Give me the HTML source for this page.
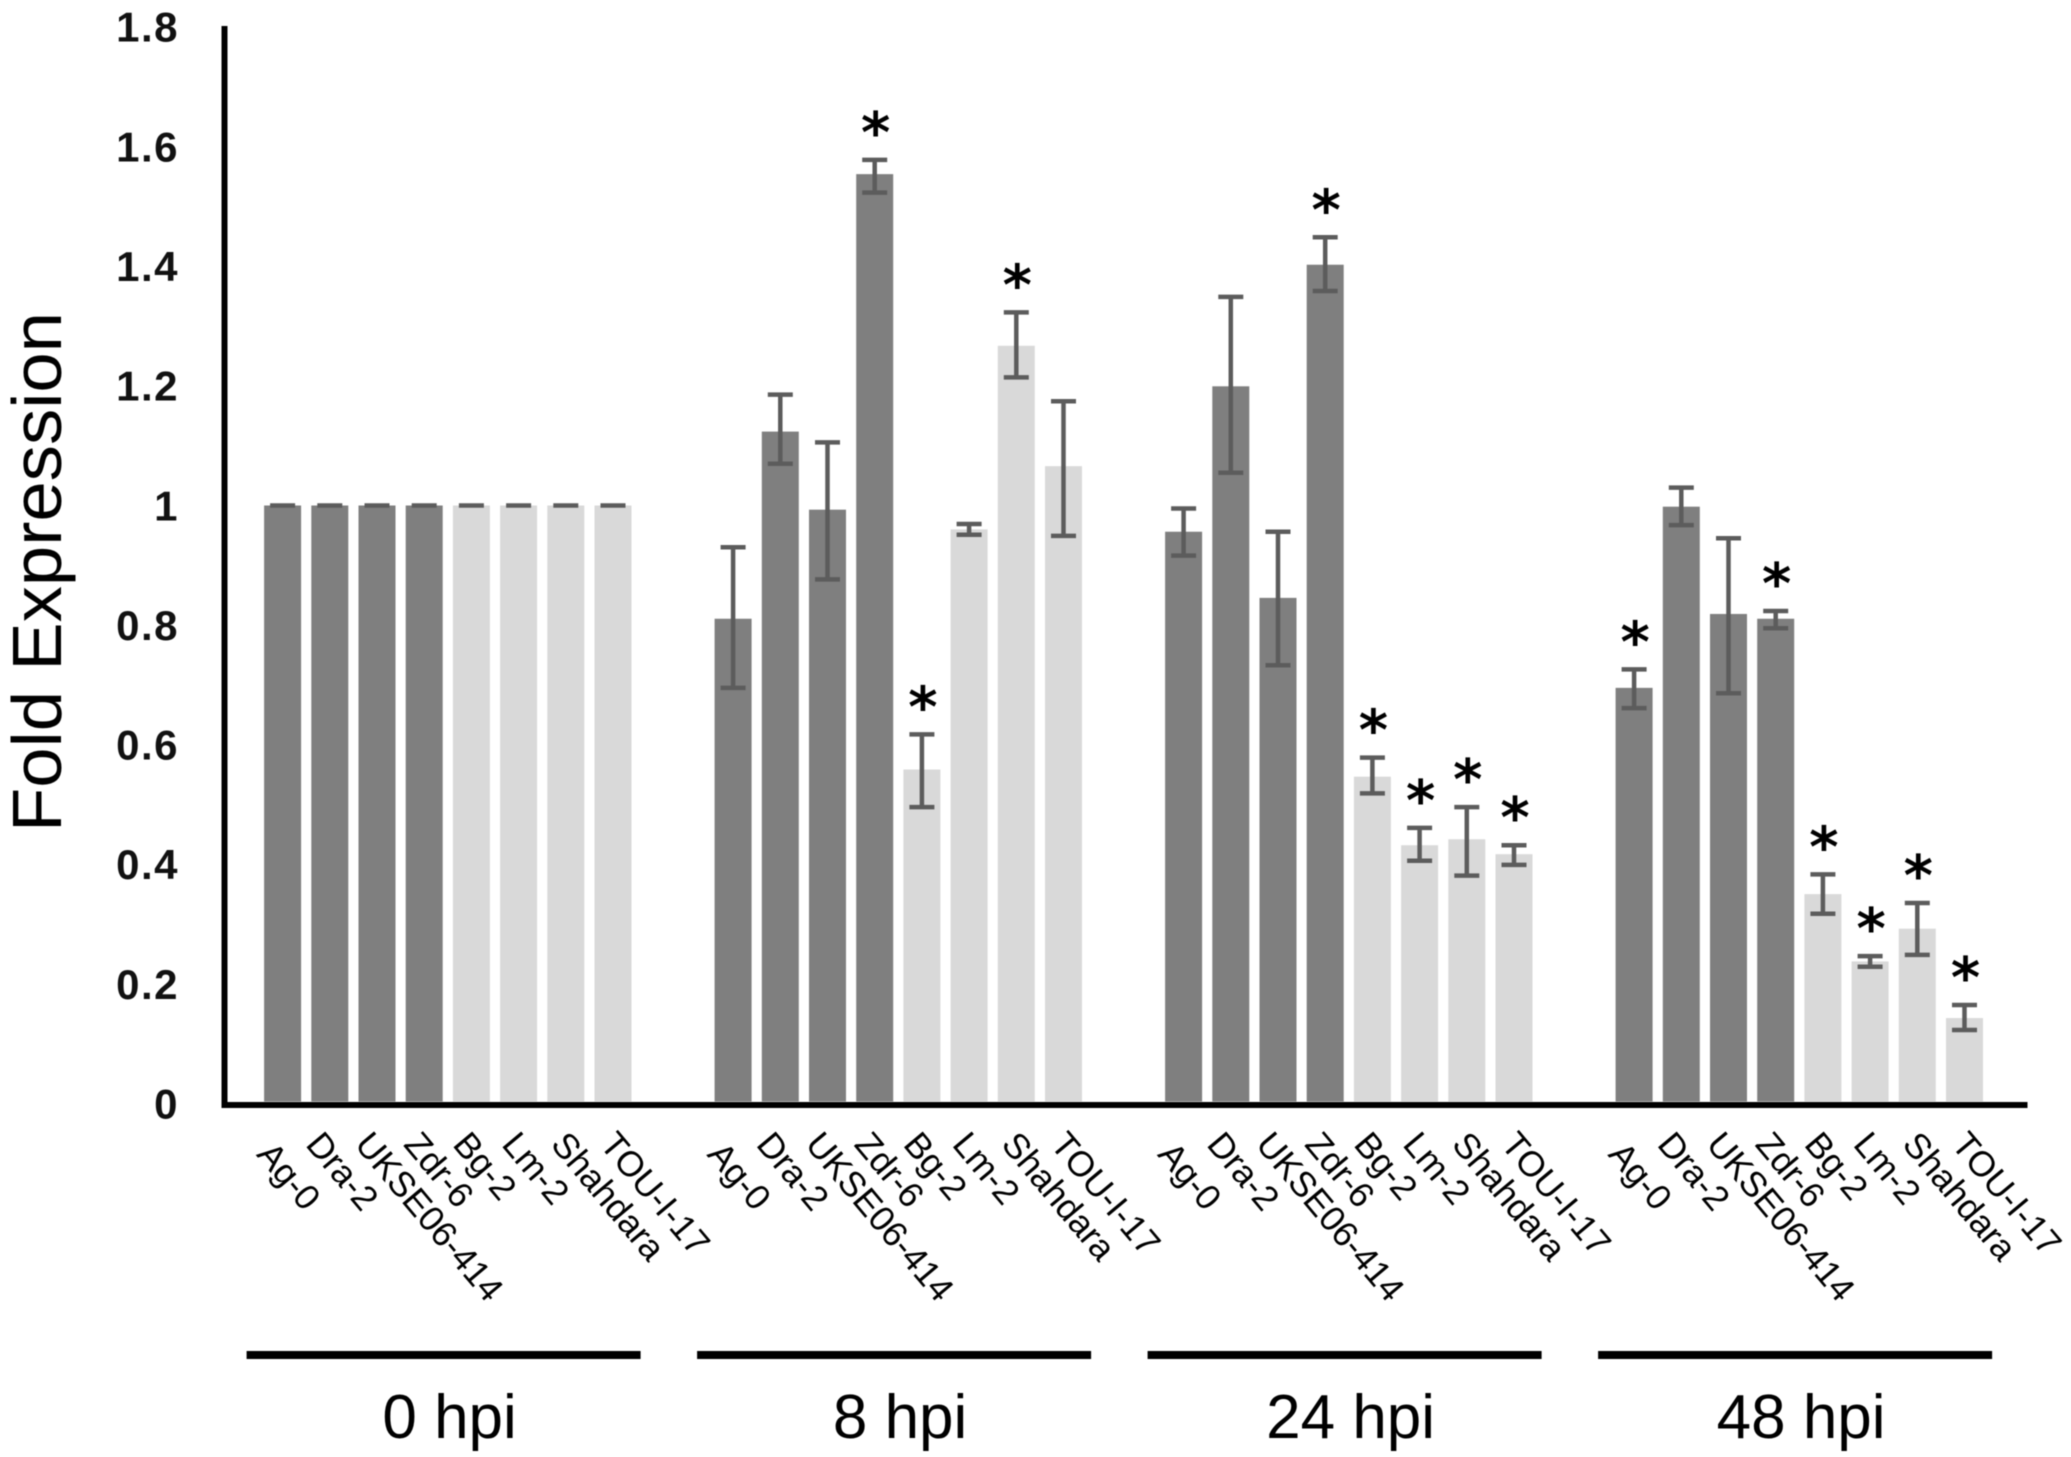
<!DOCTYPE html>
<html>
<head>
<meta charset="utf-8">
<title>Fold Expression</title>
<style>
html,body{margin:0;padding:0;background:#fff;}
svg{display:block;filter:blur(0.6px);}
</style>
</head>
<body>
<svg id="chart" xmlns="http://www.w3.org/2000/svg" width="2071" height="1457" viewBox="0 0 2071 1457"></svg>
<script>
const timepoints = ["0 hpi", "8 hpi", "24 hpi", "48 hpi"];
const accessions = ["Ag-0", "Dra-2", "UKSE06-414", "Zdr-6", "Bg-2", "Lm-2", "Shahdara", "TOU-I-17"];
const yTicks = [1.8, 1.6, 1.4, 1.2, 1, 0.8, 0.6, 0.4, 0.2, 0];

const values0hpi = [1, 1, 1, 1, 1, 1, 1, 1];
const errHigh0hpi = [1, 1, 1, 1, 1, 1, 1, 1];
const errLow0hpi = [1, 1, 1, 1, 1, 1, 1, 1];
const signif0hpi = [0, 0, 0, 0, 0, 0, 0, 0];

const values8hpi = [0.81, 1.124, 0.993, 1.556, 0.557, 0.96, 1.268, 1.066];
const errHigh8hpi = [0.93, 1.186, 1.106, 1.58, 0.616, 0.969, 1.324, 1.175];
const errLow8hpi = [0.694, 1.07, 0.876, 1.525, 0.494, 0.951, 1.215, 0.949];
const signif8hpi = [0, 0, 0, 1, 1, 0, 1, 0];

const values24hpi = [0.956, 1.2, 0.845, 1.404, 0.545, 0.43, 0.44, 0.415];
const errHigh24hpi = [0.995, 1.35, 0.956, 1.45, 0.577, 0.459, 0.494, 0.43];
const errLow24hpi = [0.916, 1.055, 0.732, 1.36, 0.517, 0.404, 0.379, 0.397];
const signif24hpi = [0, 0, 0, 1, 1, 1, 1, 1];

const values48hpi = [0.694, 0.998, 0.818, 0.81, 0.348, 0.235, 0.29, 0.14];
const errHigh48hpi = [0.725, 1.03, 0.945, 0.823, 0.381, 0.244, 0.333, 0.162];
const errLow48hpi = [0.66, 0.967, 0.685, 0.794, 0.315, 0.226, 0.246, 0.12];
const signif48hpi = [1, 0, 0, 1, 1, 1, 1, 1];

const allValues = [values0hpi, values8hpi, values24hpi, values48hpi];
const allErrHigh = [errHigh0hpi, errHigh8hpi, errHigh24hpi, errHigh48hpi];
const allErrLow = [errLow0hpi, errLow8hpi, errLow24hpi, errLow48hpi];
const allSignif = [signif0hpi, signif8hpi, signif24hpi, signif48hpi];

const svgNS = "http://www.w3.org/2000/svg";
const chart = document.getElementById("chart");

function yScale(v) { return 1101.5 - v * 596; }
function tickY(t) { return 1118.5 - t * 598.2; }
function xScale(g, i) { return 282.6 + g * 450.5 + i * 47.2; }

function make(tag, attrs, parent) {
  const el = document.createElementNS(svgNS, tag);
  for (const k in attrs) el.setAttribute(k, attrs[k]);
  (parent || chart).appendChild(el);
  return el;
}

const DARK = "#7f7f7f", LIGHT = "#d9d9d9", ERR = "#5c5c5c";

/* bars */
for (let g = 0; g < timepoints.length; g++) {
  for (let i = 0; i < accessions.length; i++) {
    const cx = xScale(g, i);
    const top = yScale(allValues[g][i]);
    const bar = make("rect", {x: cx - 18.5, y: top, width: 37, height: yScale(0) - top, fill: i < 4 ? DARK : LIGHT});
    
    
  }
}

/* error bars */
for (let g = 0; g < timepoints.length; g++) {
  for (let i = 0; i < accessions.length; i++) {
    const cx = xScale(g, i);
    const hi = yScale(allErrHigh[g][i]);
    const lo = yScale(allErrLow[g][i]);
    const err = make("path", {
      d: "M" + cx + " " + hi + "V" + lo + "M" + (cx - 12.5) + " " + hi + "H" + (cx + 12.5) + "M" + (cx - 12.5) + " " + lo + "H" + (cx + 12.5),
      stroke: ERR, "stroke-width": 4.5, fill: "none"
    });
    
    
    if (allSignif[g][i]) {
      const star = make("text", {
        x: cx + 1, y: hi - 8, "font-family": '"DejaVu Sans", sans-serif', "font-size": 56, "font-weight": "bold",
        "text-anchor": "middle", fill: "#000"
      });
      star.textContent = "*";
      
      
    }
  }
}

/* axes */
const yAxis = make("rect", {x: 221.5, y: 26, width: 6, height: 1082, fill: "#000"});


const xAxis = make("rect", {x: 221.5, y: 1102, width: 1806, height: 6, fill: "#000"});



/* y ticks */
yTicks.forEach(function (t) {
  const lab = make("text", {
    x: 179, y: tickY(t), "text-anchor": "end",
    "font-family": '"Liberation Sans", sans-serif', "font-weight": "bold",
    "font-size": 42, "letter-spacing": "1.5", fill: "#111"
  });
  lab.textContent = String(t);
  
  
});

/* y title */
const yTitle = make("text", {
  transform: "translate(61 572) rotate(-90)", "text-anchor": "middle",
  "font-family": '"Liberation Sans", sans-serif', "font-size": 70,
  textLength: 520, lengthAdjust: "spacingAndGlyphs", fill: "#000"
});
yTitle.textContent = "Fold Expression";



/* category labels */
for (let g = 0; g < timepoints.length; g++) {
  for (let i = 0; i < accessions.length; i++) {
    const lx = xScale(g, i) - 27 + i * 1.8;
    const ly = i === 0 ? 1155 : 1145;
    const cat = make("text", {
      transform: "translate(" + lx + " " + ly + ") rotate(50)",
      "font-family": '"Liberation Sans", sans-serif', "font-size": 35.5, fill: "#000"
    });
    cat.textContent = accessions[i];
    
    
  }
}

/* group brackets and labels */
for (let g = 0; g < timepoints.length; g++) {
  const left = xScale(g, 0) - 36;
  const rule = make("rect", {x: left, y: 1351, width: 394, height: 8, fill: "#000"});
  
  
  const lab = make("text", {
    x: left + 203, y: 1438, "text-anchor": "middle",
    "font-family": '"Liberation Sans", sans-serif', "font-size": 62, fill: "#000"
  });
  lab.textContent = timepoints[g];
  
  
}
</script>
</body>
</html>
